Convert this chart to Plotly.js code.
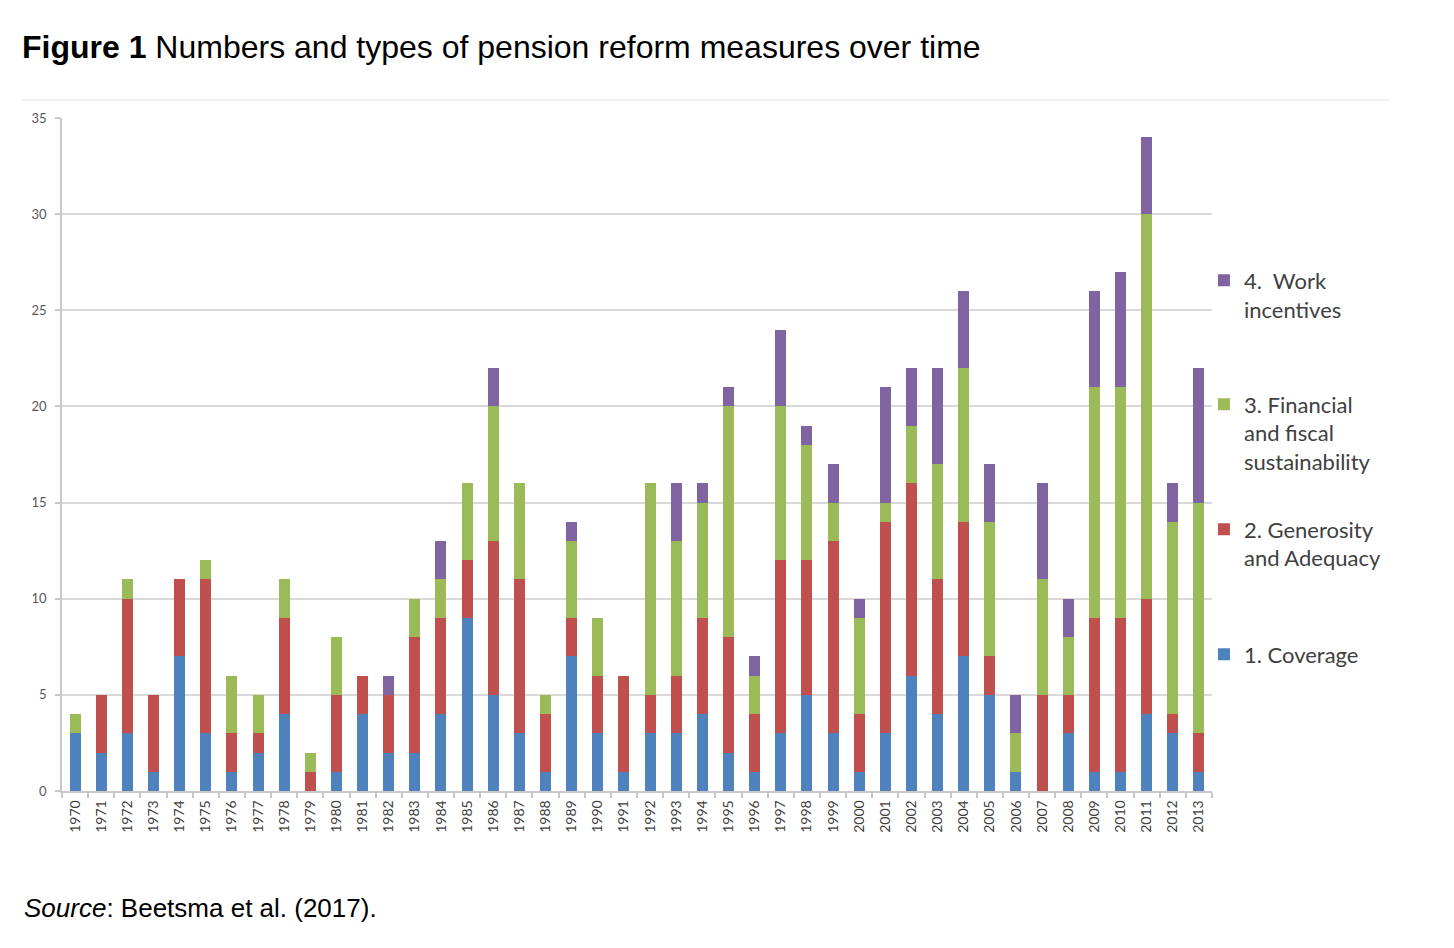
<!DOCTYPE html>
<html>
<head>
<meta charset="utf-8">
<script src="https://cdn.plot.ly/plotly-3.0.1.min.js"></script>
<style>
  html, body { margin: 0; padding: 0; background: #ffffff; }
  #chart { width: 1454px; height: 948px; }
</style>
</head>
<body>
<div id="chart"></div>
<script>
// Categories (years)
const years = ["1970","1971","1972","1973","1974","1975","1976","1977","1978","1979",
  "1980","1981","1982","1983","1984","1985","1986","1987","1988","1989",
  "1990","1991","1992","1993","1994","1995","1996","1997","1998","1999",
  "2000","2001","2002","2003","2004","2005","2006","2007","2008","2009",
  "2010","2011","2012","2013"];

// Series values (number of measures per year)
const coverage = [3,2,3,1,7,3,1,2,4,0, 1,4,2,2,4,9,5,3,1,7, 3,1,3,3,4,2,1,3,5,3, 1,3,6,4,7,5,1,0,3,1, 1,4,3,1];
const generosity = [0,3,7,4,4,8,2,1,5,1, 4,2,3,6,5,3,8,8,3,2, 3,5,2,3,5,6,3,9,7,10, 3,11,10,7,7,2,0,5,2,8, 8,6,1,2];
const financial = [1,0,1,0,0,1,3,2,2,1, 3,0,0,2,2,4,7,5,1,4, 3,0,11,7,6,12,2,8,6,2, 5,1,3,6,8,7,2,6,3,12, 12,20,10,12];
const work = [0,0,0,0,0,0,0,0,0,0, 0,0,1,0,2,0,2,0,0,1, 0,0,0,3,1,1,1,4,1,2, 1,6,3,5,4,3,2,5,2,5, 6,4,2,7];

const seriesNames = ["1. Coverage", "2. Generosity<br>and Adequacy", "3. Financial<br>and fiscal<br>sustainability", "4.  Work<br>incentives"];
const seriesColors = ["#4F81BD", "#C0504D", "#9BBB59", "#8064A2"];
const seriesData = [coverage, generosity, financial, work];
const legendIds = ["legend4", "legend3", "legend2", "legend"];

const traces = seriesData.map((vals, i) => ({
  type: "bar",
  x: years,
  y: vals,
  name: seriesNames[i],
  marker: { color: seriesColors[i], line: { width: 0 } },
  legend: legendIds[i],
  hoverinfo: "x+y+name"
}));

const legendFont = { family: "Lato, 'Open Sans', sans-serif", size: 22, color: "#404040" };
function mkLegend(yPaper) {
  return {
    x: 0.9930, xanchor: "left",
    y: yPaper, yanchor: "top",
    font: legendFont,
    valign: "top",
    bgcolor: "rgba(0,0,0,0)",
    borderwidth: 0,
    itemwidth: 30,
    itemclick: false, itemdoubleclick: false
  };
}

const layout = {
  width: 1454,
  height: 948,
  margin: { l: 62, r: 242, t: 118, b: 157, pad: 0 },
  paper_bgcolor: "#ffffff",
  plot_bgcolor: "#ffffff",
  barmode: "stack",
  bargap: 0.58,
  showlegend: true,
  title: {
    text: "<b>Figure 1</b> Numbers and types of pension reform measures over time",
    font: { family: "'Liberation Sans', Arial, sans-serif", size: 32, color: "#000000" },
    x: 22 / 1454, xanchor: "left", xref: "container",
    y: 1 - 47 / 948, yanchor: "middle", yref: "container"
  },
  xaxis: {
    type: "category",
    tickangle: -90,
    tickfont: { family: "Lato, 'Open Sans', sans-serif", size: 14, color: "#404040" },
    showline: true, linecolor: "#c8c8c8", linewidth: 1.5,
    ticks: "outside", tickson: "boundaries", ticklen: 5, tickcolor: "#c8c8c8", tickwidth: 1.5,
    ticklabelstandoff: 2,
    showgrid: false,
    fixedrange: true
  },
  yaxis: {
    range: [0, 35],
    dtick: 5,
    tick0: 0,
    tickfont: { family: "Lato, 'Open Sans', sans-serif", size: 13, color: "#595959" },
    showline: true, linecolor: "#c8c8c8", linewidth: 1.5,
    ticks: "outside", ticklen: 5, tickcolor: "#c8c8c8", tickwidth: 1.5,
    showgrid: true, gridcolor: "#d9d9d9", gridwidth: 1.5,
    zeroline: false,
    ticklabelstandoff: 6,
    fixedrange: true
  },
  legend: mkLegend(0.7897),
  legend2: mkLegend(0.6055),
  legend3: mkLegend(0.4198),
  legend4: mkLegend(0.2340),
  shapes: [
    { type: "line", xref: "paper", yref: "paper",
      x0: (22 - 62) / 1150, x1: (1390 - 62) / 1150,
      y0: (791 - 100) / 673, y1: (791 - 100) / 673,
      line: { color: "#ececec", width: 1.5 } }
  ],
  annotations: [
    { xref: "paper", yref: "paper",
      x: (22 - 62) / 1150, xanchor: "left",
      y: (791 - 908) / 673, yanchor: "middle",
      showarrow: false,
      text: "<i>Source</i>: Beetsma et al. (2017).",
      font: { family: "'Liberation Sans', Arial, sans-serif", size: 26, color: "#000000" } }
  ]
};

Plotly.newPlot("chart", traces, layout, { displayModeBar: false, staticPlot: false });
</script>
</body>
</html>
